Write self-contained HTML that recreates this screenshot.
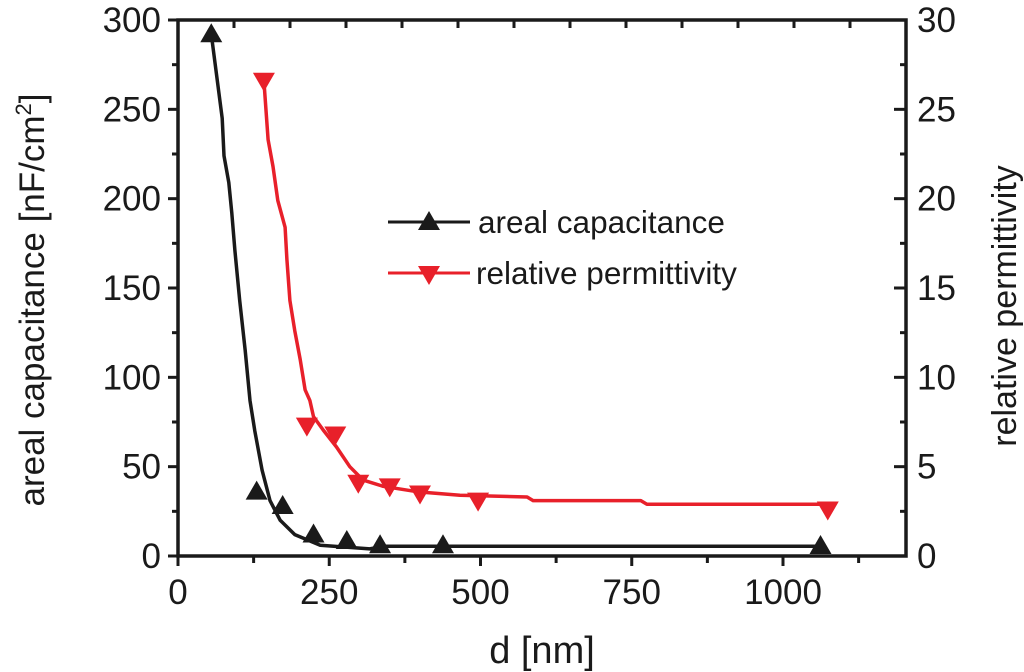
<!DOCTYPE html>
<html><head><meta charset="utf-8">
<style>
html,body{margin:0;padding:0;background:#fff;}
svg{display:block;font-family:"Liberation Sans",Arial,sans-serif;}
</style></head>
<body>
<svg id="chart" width="1024" height="672" viewBox="0 0 1024 672" xmlns="http://www.w3.org/2000/svg">
  <g id="axes"></g>
  <g id="series"></g>
  <g id="legend">
    <line x1="388" y1="222" x2="470" y2="222" stroke="#1a1a1a" stroke-width="3"/>
    <polygon points="429,211 440,230 418,230" fill="#1a1a1a"/>
    <text x="478" y="233" font-size="31.5" fill="#1a1a1a">areal capacitance</text>
    <line x1="388" y1="273" x2="470" y2="273" stroke="#e8202a" stroke-width="3"/>
    <polygon points="418,266 440,266 429,285" fill="#e8202a"/>
    <text x="476" y="284" font-size="31.5" fill="#1a1a1a">relative permittivity</text>
  </g>
  <text x="542" y="663" font-size="38" text-anchor="middle" fill="#1a1a1a">d [nm]</text>
  <text transform="translate(44,300) rotate(-90)" font-size="35" text-anchor="middle" fill="#1a1a1a">areal capacitance [nF/cm<tspan dy="-13" font-size="22">2</tspan><tspan dy="13">]</tspan></text>
  <text transform="translate(1016,306) rotate(-90)" font-size="34" text-anchor="middle" fill="#1a1a1a">relative permittivity</text>
</svg>
<script>
const capLineX = [55,73,76,84,89,94,102,111,119,127,139,152,169,193,235,317,340,1060];
const capLineY = [292,245,224,209,192,171,143,115,87,70,48,31,20,12,6,4,5.5,5.5];
const capMarkX = [55,130,173,224,279,334,438,1062];
const capMarkY = [292,36,28,12,8.4,6,6,5.6];
const permLineX = [142,149,157,165,177,180,185,193,202,210,218,224,240,262,284,306,339,395,466,577,587,765,775,1074];
const permLineY = [26.6,23.3,21.8,19.9,18.4,16.6,14.3,12.6,11,9.3,8.7,7.8,7.05,6.1,5.0,4.25,3.9,3.6,3.4,3.3,3.1,3.1,2.9,2.9];
const permMarkX = [142,213,260,298,350,400,496,1074];
const permMarkY = [26.6,7.3,6.8,4.1,3.9,3.5,3.1,2.6];
const xTicks = [0,250,500,750,1000];
const yLeftTicks = [0,50,100,150,200,250,300];
const yRightTicks = [0,5,10,15,20,25,30];

const NS = "http://www.w3.org/2000/svg";
const L=178,R=906,T=20,B=556;
const xs = v => L + v*0.605;
const yl = v => B - (v/300)*(B-T);
const yr = v => B - (v/30)*(B-T);
function mk(tag, attrs, parent){const e=document.createElementNS(NS,tag);for(const k in attrs)e.setAttribute(k,attrs[k]);parent.appendChild(e);return e;}
const axes=document.getElementById('axes'), series=document.getElementById('series');
const K="#1a1a1a";
let fr=mk('rect',{x:L,y:T,width:R-L,height:B-T,fill:'none',stroke:K,'stroke-width':3.5},axes);


for(let v=0; v<=1125; v+=125){
  const major = v%250===0;
  let t=mk('line',{x1:xs(v),x2:xs(v),y1:B,y2:B+(major?10:7),stroke:K,'stroke-width':3},axes);
  
  
}
xTicks.forEach(v=>{
  let t=mk('text',{x:xs(v),y:604,'font-size':35,'text-anchor':'middle',fill:K},axes);
  t.textContent=v;
  
  
});
for(let k=1;k<=12;k++){
  let t=mk('line',{x1:L+56*k,x2:L+56*k,y1:T,y2:T+8,stroke:K,'stroke-width':3},axes);
  
  
}
for(let v=0; v<=300; v+=25){
  const major=v%50===0;
  let t=mk('line',{x1:L-(major?10:6),x2:L,y1:yl(v),y2:yl(v),stroke:K,'stroke-width':3},axes);
  
  
}
yLeftTicks.forEach(v=>{
  let t=mk('text',{x:161,y:yl(v)+12,'font-size':35,'text-anchor':'end',fill:K},axes);
  t.textContent=v;
  
  
});
for(let v=0; v<=30; v+=2.5){
  const major=v%5===0;
  let t=mk('line',{x1:R-(major?12:6),x2:R,y1:yr(v),y2:yr(v),stroke:K,'stroke-width':3},axes);
  
  
}
yRightTicks.forEach(v=>{
  let t=mk('text',{x:917,y:yr(v)+12,'font-size':35,'text-anchor':'start',fill:K},axes);
  t.textContent=v;
  
  
});
function drawLine(xsA,ysA,yf,color,name){
  const pts=xsA.map((x,i)=>xs(x).toFixed(1)+','+yf(ysA[i]).toFixed(1)).join(' ');
  let p=mk('polyline',{points:pts,fill:'none',stroke:color,'stroke-width':3.5,'stroke-linejoin':'round'},series);
  
  
}
function drawMarks(xsA,ysA,yf,color,up,name){
  xsA.forEach((x,i)=>{
    const cx=xs(x), cy=yf(ysA[i]);
    const pts = up ? `${cx},${cy-11} ${cx+11},${cy+8} ${cx-11},${cy+8}` : `${cx-11},${cy-8} ${cx+11},${cy-8} ${cx},${cy+11}`;
    let m=mk('polygon',{points:pts,fill:color},series);
    
    
  });
}
drawLine(capLineX,capLineY,yl,K,'capacitance-line');
drawMarks(capMarkX,capMarkY,yl,K,true,'capacitance-marker');
drawLine(permLineX,permLineY,yr,'#e8202a','permittivity-line');
drawMarks(permMarkX,permMarkY,yr,'#e8202a',false,'permittivity-marker');
</script>
</body></html>
